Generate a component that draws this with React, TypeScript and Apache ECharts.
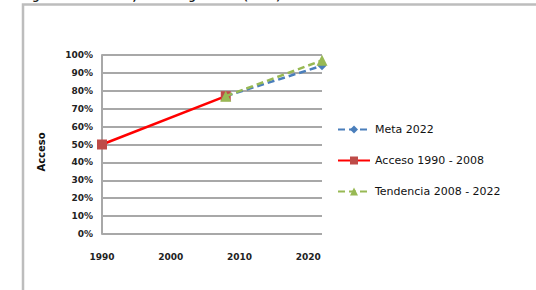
import React, { useEffect, useRef } from "react";
import * as echarts from "echarts";

const yearsMeta = [2008, 2022];
const valuesMeta = [77, 94];
const yearsAcceso = [1990, 2008];
const valuesAcceso = [50, 77];
const yearsTend = [2008, 2022];
const valuesTend = [77, 97];
const seriesNames = ["Meta 2022", "Acceso 1990 - 2008", "Tendencia 2008 - 2022"];
const yAxisTitle = "Acceso";
const chartTitle = "Figura 9: Tendencia, acceso agua rural (2022)";

const pairs = (xs: number[], ys: number[]) => xs.map((x, i) => [x, ys[i]]);

export default function App() {
  const ref = useRef<HTMLDivElement>(null);
  useEffect(() => {
    if (!ref.current) return;
    const chart = echarts.init(ref.current, null, { renderer: "svg" });
    const font = "DejaVu Sans";
    chart.setOption({
      animation: false,
      backgroundColor: "#fff",
      textStyle: { fontFamily: font },
      graphic: [
        {
          type: "text",
          left: 22,
          top: -9,
          style: {
            text: chartTitle,
            font: "bold 10px DejaVu Sans",
            fill: "#222",
          },
        },
        {
          type: "rect",
          shape: { x: 23, y: 4.5, width: 600, height: 400 },
          style: { fill: "none", stroke: "#bdbdbd", lineWidth: 2.5 },
          z: -1,
        },
        {
          type: "text",
          x: 41,
          y: 152,
          rotation: Math.PI / 2,
          style: {
            text: yAxisTitle,
            font: "bold 10px DejaVu Sans",
            fill: "#111",
            align: "center",
            verticalAlign: "middle",
          },
        },
      ],
      grid: { left: 102, top: 55, right: 214, bottom: 56 },
      legend: {
        orient: "vertical",
        left: 332,
        top: 119,
        itemGap: 20,
        itemWidth: 32,
        itemHeight: 10,
        textStyle: { fontSize: 11, color: "#111", fontFamily: font },
        data: seriesNames,
      },
      xAxis: {
        type: "value",
        min: 1990,
        max: 2022,
        interval: 10,
        splitLine: { show: false },
        axisLine: { show: false },
        axisTick: { show: false },
        axisLabel: {
          margin: 18,
          fontSize: 9,
          fontWeight: "bold",
          color: "#222",
          showMaxLabel: false,
          formatter: (v: number) => String(v),
        },
      },
      yAxis: {
        type: "value",
        min: 0,
        max: 100,
        interval: 10,
        axisLine: { show: true, lineStyle: { color: "#a8a8a8", width: 2 } },
        axisTick: { show: false },
        splitLine: { lineStyle: { color: "#a8a8a8", width: 2 } },
        axisLabel: {
          margin: 9,
          fontSize: 9,
          fontWeight: "bold",
          color: "#222",
          formatter: (v: number) => v + "%",
        },
      },
      series: [
        {
          name: seriesNames[0],
          type: "line",
          data: pairs(yearsMeta, valuesMeta),
          symbol: "diamond",
          symbolSize: 9,
          itemStyle: { color: "#4a7ebb" },
          lineStyle: { color: "#4a7ebb", width: 2.5, type: [7, 4] },
          z: 2,
        },
        {
          name: seriesNames[1],
          type: "line",
          data: pairs(yearsAcceso, valuesAcceso),
          symbol: "rect",
          symbolSize: 10,
          itemStyle: { color: "#be4b48" },
          lineStyle: { color: "#ff0000", width: 2.5, type: "solid" },
          z: 3,
        },
        {
          name: seriesNames[2],
          type: "line",
          data: pairs(yearsTend, valuesTend),
          symbol: "triangle",
          symbolSize: 11,
          itemStyle: { color: "#98b954" },
          lineStyle: { color: "#98b954", width: 2.5, type: [7, 4] },
          z: 4,
        },
      ],
    });
    return () => chart.dispose();
  }, []);
  return (
    <div
      ref={ref}
      style={{ position: "fixed", left: 0, top: 0, width: 536, height: 290 }}
    />
  );
}
